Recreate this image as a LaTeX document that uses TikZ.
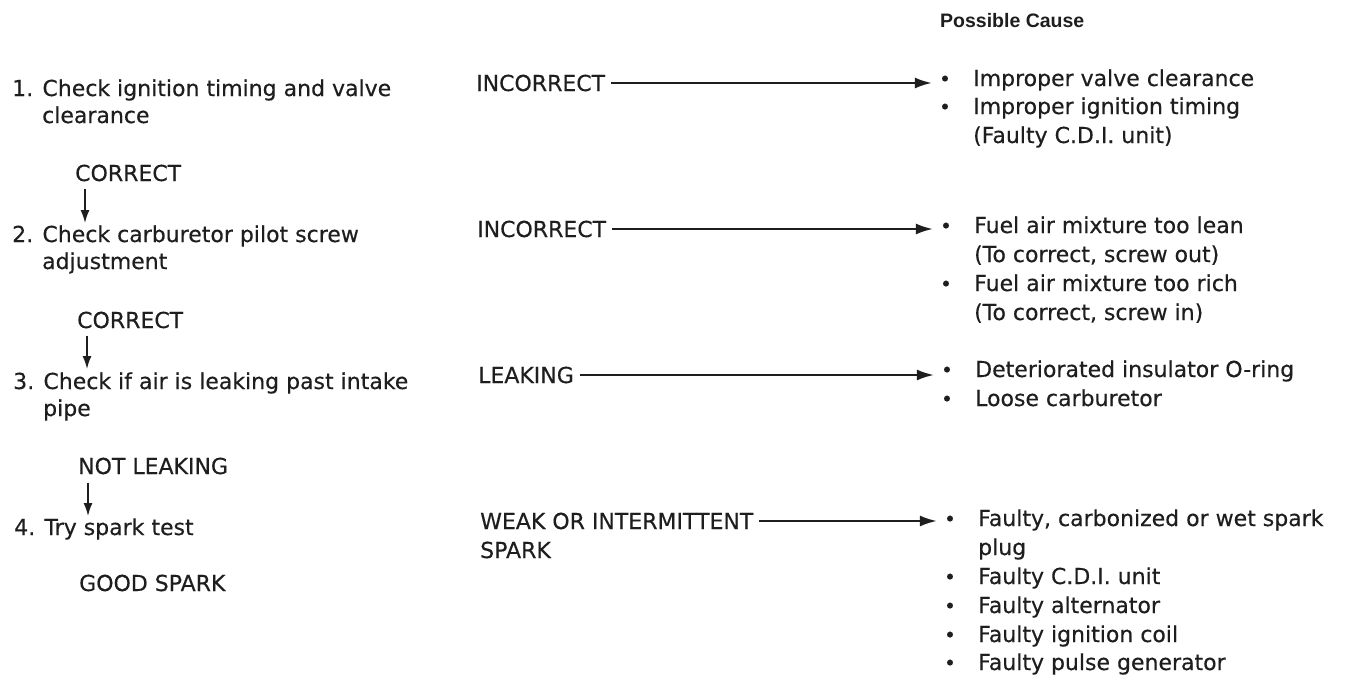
\documentclass[tikz,border=0pt]{standalone}
\usepackage{fontspec}
\setmainfont[FakeBold=0.35]{DejaVu Sans}
\newfontfamily\headfont{Liberation Sans}
\usetikzlibrary{arrows.meta,calc}
\definecolor{ink}{HTML}{1E1E1E}
\begin{document}
\begin{tikzpicture}[x=1pt,y=-1pt,
  txt/.style={inner sep=0pt, anchor=base west, text=ink, font=\fontsize{22}{27}\selectfont},
  head/.style={inner sep=0pt, anchor=base west, text=ink, font=\headfont\bfseries\fontsize{19.5}{24}\selectfont},
  bul/.style={inner sep=0pt, anchor=base, text=ink, font=\fontsize{20}{22}\selectfont},
  harrow/.style={draw=ink, line width=2.2pt, -{Latex[length=17pt,width=11pt]}, shorten <=6pt, shorten >=7pt},
  varrow/.style={draw=ink, line width=1.8pt, -{Latex[length=13pt,width=9pt]}}]
\useasboundingbox (0,0) rectangle (1347,675);
\fill[white] (0,0) rectangle (1347,675);

% heading
\node[head] (pc) at (940,27) {Possible Cause};

% left column steps
\node[txt] (i1a) at (12,96)  {1. Check ignition timing and valve};
\node[txt] (i1b) at (42,123) {clearance};
\node[txt] (c1)  at (75,181) {CORRECT};
\node[txt] (i2a) at (12,242) {2. Check carburetor pilot screw};
\node[txt] (i2b) at (42,269) {adjustment};
\node[txt] (c2)  at (77,328) {CORRECT};
\node[txt] (i3a) at (13,389) {3. Check if air is leaking past intake};
\node[txt] (i3b) at (43,416) {pipe};
\node[txt] (c3)  at (78,474) {NOT LEAKING};
\node[txt] (i4a) at (14,535) {4. Try spark test};
\node[txt] (c4)  at (79,591) {GOOD SPARK};

\draw[varrow] ($(c1.south west)+(10,7)$) -- ($(c1.south west |- i2a.north)+(10,-2)$);
\draw[varrow] ($(c2.south west)+(10,7)$) -- ($(c2.south west |- i3a.north)+(10,-3)$);
\draw[varrow] ($(c3.south west)+(10,8)$) -- ($(c3.south west |- i4a.north)+(10,-2)$);

% middle results
\node[txt] (r1)  at (476,91)  {INCORRECT};
\node[txt] (r2)  at (477,237) {INCORRECT};
\node[txt] (r3)  at (478,383) {LEAKING};
\node[txt] (r4a) at (480,529) {WEAK OR INTERMITTENT};
\node[txt] (r4b) at (480,558) {SPARK};

% causes group 1
\node[bul] (b1) at (945,86) {•};
\node[txt] (p1) at (973,86) {Improper valve clearance};
\node[bul] (b2) at (945,114) {•};
\node[txt] (p2) at (973,114) {Improper ignition timing};
\node[txt] (p3) at (973,143) {(Faulty C.D.I. unit)};
% causes group 2
\node[bul] (b3) at (946,233) {•};
\node[txt] (p4) at (974,233) {Fuel air mixture too lean};
\node[txt] (p5) at (974,262) {(To correct, screw out)};
\node[bul] (b4) at (946,291) {•};
\node[txt] (p6) at (974,291) {Fuel air mixture too rich};
\node[txt] (p7) at (974,320) {(To correct, screw in)};
% causes group 3
\node[bul] (b5) at (947,377) {•};
\node[txt] (p8) at (975,377) {Deteriorated insulator O-ring};
\node[bul] (b6) at (947,406) {•};
\node[txt] (p9) at (975,406) {Loose carburetor};
% causes group 4
\node[bul] (b7) at (950,526) {•};
\node[txt] (p10) at (978,526) {Faulty, carbonized or wet spark};
\node[txt] (p11) at (978,555) {plug};
\node[bul] (b8) at (950,584) {•};
\node[txt] (p12) at (978,584) {Faulty C.D.I. unit};
\node[bul] (b9) at (950,613) {•};
\node[txt] (p13) at (978,613) {Faulty alternator};
\node[bul] (b10) at (950,642) {•};
\node[txt] (p14) at (978,642) {Faulty ignition coil};
\node[bul] (b11) at (950,670) {•};
\node[txt] (p15) at (978,670) {Faulty pulse generator};

% horizontal arrows
\draw[harrow] (r1.east)  -- (r1.east -| b1.west);
\draw[harrow] (r2.east)  -- (r2.east -| b3.west);
\draw[harrow] (r3.east)  -- (r3.east -| b5.west);
\draw[harrow] (r4a.east) -- (r4a.east -| b7.west);
\end{tikzpicture}
\end{document}
